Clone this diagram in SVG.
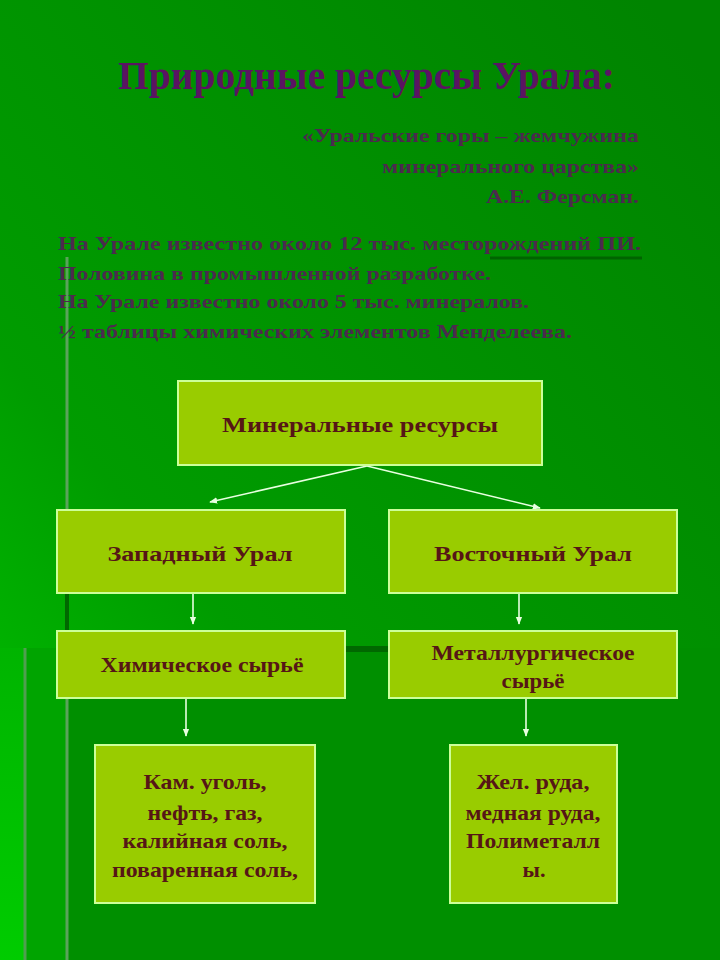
<svg xmlns="http://www.w3.org/2000/svg" width="720" height="960" viewBox="0 0 720 960">
<defs>
<linearGradient id="bg" x1="0" y1="1" x2="0.9" y2="0">
<stop offset="0" stop-color="#00c800"/>
<stop offset="0.35" stop-color="#009c00"/>
<stop offset="1" stop-color="#008400"/>
</linearGradient>
<linearGradient id="lowL" x1="0" y1="0" x2="0" y2="1">
<stop offset="0" stop-color="#00b400"/>
<stop offset="1" stop-color="#00cc00"/>
</linearGradient>
<marker id="ah" viewBox="0 0 10 10" refX="9" refY="5" markerWidth="5" markerHeight="5" orient="auto">
<path d="M0,1 L10,5 L0,9 z" fill="#e8ffe0"/>
</marker>
<style>
.box{fill:#99cc00;stroke:#ccff99;stroke-width:2}
.bt{font-family:"Liberation Serif","DejaVu Serif",serif;font-weight:bold;fill:#561616;text-anchor:middle;font-size:21px}
.hd{font-family:"Liberation Serif","DejaVu Serif",serif;font-weight:bold;fill:#4c2a4e;font-size:19px}
.cn{fill:none;stroke:#e8ffe0;stroke-width:1.6;marker-end:url(#ah)}
</style>
</defs>
<g id="background">
<rect x="0" y="0" width="720" height="960" fill="url(#bg)"/>
<rect x="0" y="648" width="25" height="312" fill="url(#lowL)"/>
<rect x="25" y="648" width="42" height="312" fill="#00a400"/>
<rect x="67" y="648" width="653" height="312" fill="#008f00"/>
<line x1="67" y1="257" x2="67" y2="960" stroke="#5aa45a" stroke-width="3"/>
<line x1="25" y1="648" x2="25" y2="960" stroke="#4f9f4f" stroke-width="3"/>
<line x1="67" y1="593" x2="67" y2="648" stroke="#006800" stroke-width="4"/>
<line x1="67" y1="649" x2="389" y2="649" stroke="#006800" stroke-width="6"/>
<line x1="490" y1="258" x2="642" y2="258" stroke="#006400" stroke-width="3"/>
</g>
<g id="header">
<text x="118" y="89" font-family="'Liberation Serif','DejaVu Serif',serif" font-weight="bold" font-size="40" fill="#5a1462" textLength="497" lengthAdjust="spacingAndGlyphs">Природные ресурсы Урала:</text>
<text class="hd" x="302" y="142" textLength="337" lengthAdjust="spacingAndGlyphs">«Уральские горы – жемчужина</text>
<text class="hd" x="382" y="173" textLength="257" lengthAdjust="spacingAndGlyphs">минерального царства»</text>
<text class="hd" x="486" y="203" textLength="153" lengthAdjust="spacingAndGlyphs">А.Е. Ферсман.</text>
<text class="hd" x="58" y="250" textLength="583" lengthAdjust="spacingAndGlyphs">На Урале известно около 12 тыс. месторождений  ПИ.</text>
<text class="hd" x="58" y="280" textLength="433" lengthAdjust="spacingAndGlyphs">Половина в промышленной разработке.</text>
<text class="hd" x="58" y="308" textLength="471" lengthAdjust="spacingAndGlyphs">На Урале известно около 5 тыс. минералов.</text>
<text class="hd" x="58" y="338" textLength="514" lengthAdjust="spacingAndGlyphs">½ таблицы химических элементов Менделеева.</text>
</g>
<g id="connectors">
<line class="cn" x1="367" y1="466" x2="210" y2="502"/>
<line class="cn" x1="367" y1="466" x2="540" y2="508"/>
<line class="cn" x1="193" y1="594" x2="193" y2="624"/>
<line class="cn" x1="519" y1="594" x2="519" y2="624"/>
<line class="cn" x1="186" y1="699" x2="186" y2="736"/>
<line class="cn" x1="526" y1="699" x2="526" y2="736"/>
</g>
<g id="n-mineral">
<rect class="box" x="178" y="381" width="364" height="84"/>
<text class="bt" x="360" y="432" textLength="276" lengthAdjust="spacingAndGlyphs">Минеральные ресурсы</text>
</g>
<g id="n-west">
<rect class="box" x="57" y="510" width="288" height="83"/>
<text class="bt" x="200" y="561" textLength="185" lengthAdjust="spacingAndGlyphs">Западный Урал</text>
</g>
<g id="n-east">
<rect class="box" x="389" y="510" width="288" height="83"/>
<text class="bt" x="533" y="561" textLength="198" lengthAdjust="spacingAndGlyphs">Восточный Урал</text>
</g>
<g id="n-chem">
<rect class="box" x="57" y="631" width="288" height="67"/>
<text class="bt" x="202" y="672" textLength="203" lengthAdjust="spacingAndGlyphs">Химическое сырьё</text>
</g>
<g id="n-metal">
<rect class="box" x="389" y="631" width="288" height="67"/>
<text class="bt" x="533" y="660" textLength="203" lengthAdjust="spacingAndGlyphs">Металлургическое</text>
<text class="bt" x="533" y="688" textLength="63" lengthAdjust="spacingAndGlyphs">сырьё</text>
</g>
<g id="n-chemlist">
<rect class="box" x="95" y="745" width="220" height="158"/>
<text class="bt" x="205" y="789" textLength="123" lengthAdjust="spacingAndGlyphs">Кам. уголь,</text>
<text class="bt" x="205" y="820" textLength="115" lengthAdjust="spacingAndGlyphs">нефть, газ,</text>
<text class="bt" x="205" y="848" textLength="165" lengthAdjust="spacingAndGlyphs">калийная соль,</text>
<text class="bt" x="205" y="877" textLength="186" lengthAdjust="spacingAndGlyphs">поваренная соль,</text>
</g>
<g id="n-metallist">
<rect class="box" x="450" y="745" width="167" height="158"/>
<text class="bt" x="533" y="789" textLength="113" lengthAdjust="spacingAndGlyphs">Жел. руда,</text>
<text class="bt" x="533" y="820" textLength="135" lengthAdjust="spacingAndGlyphs">медная руда,</text>
<text class="bt" x="533" y="848" textLength="134" lengthAdjust="spacingAndGlyphs">Полиметалл</text>
<text class="bt" x="534" y="877" textLength="23" lengthAdjust="spacingAndGlyphs">ы.</text>
</g>
</svg>
